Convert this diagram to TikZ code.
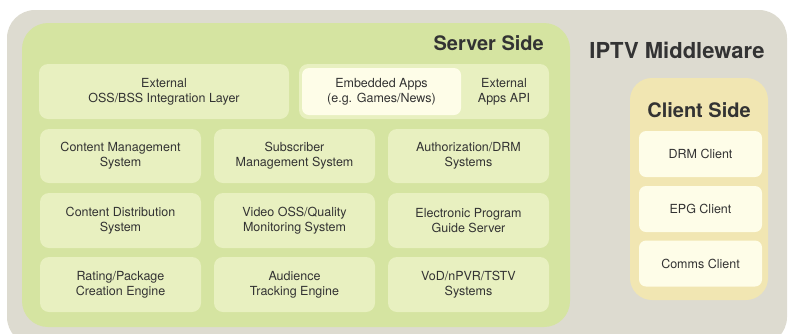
\documentclass[tikz,border=0pt]{standalone}
\usepackage{fontspec}
\setmainfont{TeX Gyre Heros}
\definecolor{outerbg}{HTML}{DDDBD0}
\definecolor{servergreen}{HTML}{D5E4A1}
\definecolor{boxgreen}{HTML}{E8F0C0}
\definecolor{cream}{HTML}{FEFDE8}
\definecolor{clientyel}{HTML}{F1E6B2}
\definecolor{txt}{HTML}{333333}
\begin{document}
\begin{tikzpicture}[x=1pt,y=-1pt,
  inbox/.style={rectangle, rounded corners=9pt, fill=boxgreen, draw=none, text=txt,
    align=center, font=\fontsize{12.5}{15}\selectfont, inner sep=0pt},
  creambox/.style={inbox, fill=cream},
  title/.style={text=txt, font=\fontsize{20}{22}\selectfont\bfseries, inner sep=0pt}]
\useasboundingbox (0,0) rectangle (789,333);
\begin{scope}
\clip (0,0) rectangle (789,333);
\fill[outerbg, rounded corners=28pt] (7,10) rectangle (787,345);
\end{scope}
\fill[servergreen, rounded corners=26pt] (22,23) rectangle (570,327);
\fill[clientyel, rounded corners=22pt] (630,78) rectangle (768,300);
% titles
\node[title, anchor=east] (server) at (544,43) {Server Side};
\node[title, font=\fontsize{22}{24}\selectfont\bfseries] (iptv) at (677,50) {IPTV Middleware};
\node[title] (client) at (699,110) {Client Side};
% row 1
\node[inbox, minimum width=250, minimum height=55] (ext) at (164,91.5) {External\\OSS/BSS Integration Layer};
\node[inbox, minimum width=250, minimum height=55] (apps) at (424,91.5) {};
\node[creambox, rounded corners=7pt, minimum width=159, minimum height=47] (emb) at (381.5,91.5) {Embedded Apps\\(e.g. Games/News)};
\node[text=txt, align=center, font=\fontsize{12.5}{15}\selectfont, inner sep=0pt] (api) at (504,91.5) {External\\Apps API};
% rows 2-4
\node[inbox, minimum width=161, minimum height=54] (cms) at (120.5,156) {Content Management\\System};
\node[inbox, minimum width=161, minimum height=54] (sms) at (294.5,156) {Subscriber\\Management System};
\node[inbox, minimum width=161, minimum height=54] (drm) at (468.5,156) {Authorization/DRM\\Systems};
\node[inbox, minimum width=161, minimum height=55] (cds) at (120.5,220.5) {Content Distribution\\System};
\node[inbox, minimum width=161, minimum height=55] (voss) at (294.5,220.5) {Video OSS/Quality\\Monitoring System};
\node[inbox, minimum width=161, minimum height=55] (epg) at (468.5,220.5) {Electronic Program\\Guide Server};
\node[inbox, minimum width=161, minimum height=55] (rate) at (120.5,284.5) {Rating/Package\\Creation Engine};
\node[inbox, minimum width=161, minimum height=55] (aud) at (294.5,284.5) {Audience\\Tracking Engine};
\node[inbox, minimum width=161, minimum height=55] (vod) at (468.5,284.5) {VoD/nPVR/TSTV\\Systems};
% client boxes
\node[creambox, rounded corners=7pt, minimum width=123, minimum height=46] (drmc) at (700.5,154) {DRM Client};
\node[creambox, rounded corners=7pt, minimum width=123, minimum height=46] (epgc) at (700.5,209) {EPG Client};
\node[creambox, rounded corners=7pt, minimum width=123, minimum height=46] (comc) at (700.5,263.5) {Comms Client};
\end{tikzpicture}
\end{document}
